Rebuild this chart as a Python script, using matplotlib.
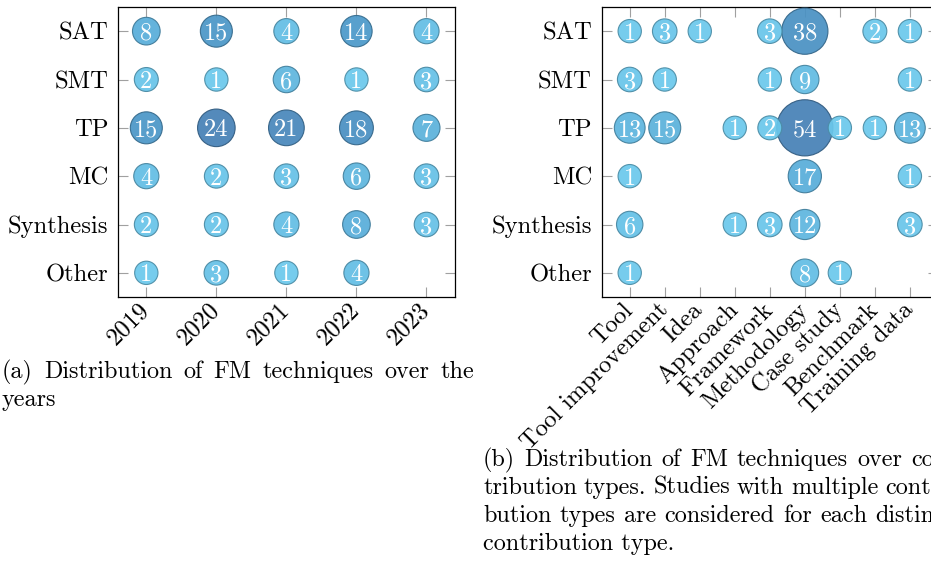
import numpy as np
import matplotlib
matplotlib.use("Agg")
import matplotlib.pyplot as plt
from matplotlib.colors import LinearSegmentedColormap, Normalize

# --- data ---
years = ["2019", "2020", "2021", "2022", "2023"]
techniques = ["SAT", "SMT", "TP", "MC", "Synthesis", "Other"]
contributions = ["Tool", "Tool improvement", "Idea", "Approach", "Framework",
                 "Methodology", "Case study", "Benchmark", "Training data"]

# rows = techniques, cols = years (0 = no study)
sat_y = [8, 15, 4, 14, 4]
smt_y = [2, 1, 6, 1, 3]
tp_y = [15, 24, 21, 18, 7]
mc_y = [4, 2, 3, 6, 3]
syn_y = [2, 2, 4, 8, 3]
oth_y = [1, 3, 1, 4, 0]

# rows = techniques, cols = contribution types
sat_c = [1, 3, 1, 0, 3, 38, 0, 2, 1]
smt_c = [3, 1, 0, 0, 1, 9, 0, 0, 1]
tp_c = [13, 15, 0, 1, 2, 54, 1, 1, 13]
mc_c = [1, 0, 0, 0, 0, 17, 0, 0, 1]
syn_c = [6, 0, 0, 1, 3, 12, 0, 0, 3]
oth_c = [1, 0, 0, 0, 0, 8, 1, 0, 0]

by_year = np.array([sat_y, smt_y, tp_y, mc_y, syn_y, oth_y])
by_contrib = np.array([sat_c, smt_c, tp_c, mc_c, syn_c, oth_c])

plt.rcParams["font.family"] = ["cmr10", "DejaVu Serif"]
cmap = LinearSegmentedColormap.from_list("blues", ["#6ac8ec", "#4b9ccc", "#4580b5"])

W, H = 931, 572


def bubble_panel(ax, counts, xlabels, margin):
    rows, cols = np.nonzero(counts)
    vals = counts[rows, cols]
    order = np.argsort(-vals)  # big ones first, small ones on top
    rows, cols, vals = rows[order], cols[order], vals[order]

    norm = Normalize(vmin=1, vmax=counts.max())
    face = cmap(norm(vals))
    edge = face.copy()
    edge[:, :3] *= 0.7
    diam = 22.7 + 0.62 * vals  # pixels
    ax.scatter(cols, rows, s=(diam * 0.72) ** 2, c=face, edgecolors=edge,
               linewidths=0.8, alpha=0.92, zorder=3)
    for r, c, v in zip(rows, cols, vals):
        ax.text(c, r, str(v), ha="center", va="center_baseline", color="white",
                fontsize=17.5, zorder=4)

    ax.set_xlim(-margin, len(xlabels) - 1 + margin)
    ax.set_ylim(len(techniques) - 0.5, -0.5)
    ax.set_xticks(range(len(xlabels)))
    ax.set_xticklabels(xlabels, rotation=45, ha="right", va="center",
                       rotation_mode="anchor")
    ax.set_yticks(range(len(techniques)))
    ax.set_yticklabels(techniques)
    ax.tick_params(direction="in", length=7.5, width=0.8, color="#a0a0a0",
                   top=True, right=True, labelsize=17.7, pad=7)
    for sp in ax.spines.values():
        sp.set_linewidth(0.9)


def caption(x0, y0, lines, width, size):
    # LaTeX-style justified paragraph, last line left as is
    r = fig.canvas.get_renderer()
    for i, line in enumerate(lines):
        y = 1 - (y0 + 28 * i) / H
        if i == len(lines) - 1:
            fig.text(x0 / W, y, line, fontsize=size, va="baseline")
            continue
        words = line.split()
        texts = [fig.text(0, y, w, fontsize=size, va="baseline") for w in words]
        widths = [t.get_window_extent(r).width for t in texts]
        gap = (width - sum(widths)) / (len(words) - 1)
        x = x0
        for t, w in zip(texts, widths):
            t.set_x(x / W)
            x += w + gap


fig = plt.figure(figsize=(W / 100, H / 100), dpi=100)
ax1 = fig.add_axes([118.3 / W, 275 / H, 336.2 / W, 290 / H])
ax2 = fig.add_axes([601.7 / W, 275 / H, 336.2 / W, 290 / H])

bubble_panel(ax1, by_year, years, 0.4)
bubble_panel(ax2, by_contrib, contributions, 0.8)

# --- captions ---
cap_a = ["(a) Distribution of FM techniques over the", "years"]
cap_b = ["(b) Distribution of FM techniques over con-",
         "tribution types. Studies with multiple contri-",
         "bution types are considered for each distinct",
         "contribution type."]
caption(2, 378, cap_a, 472, 17.4)
caption(483, 466, cap_b, 472, 17.4)

fig.savefig("out.png", dpi=100)
